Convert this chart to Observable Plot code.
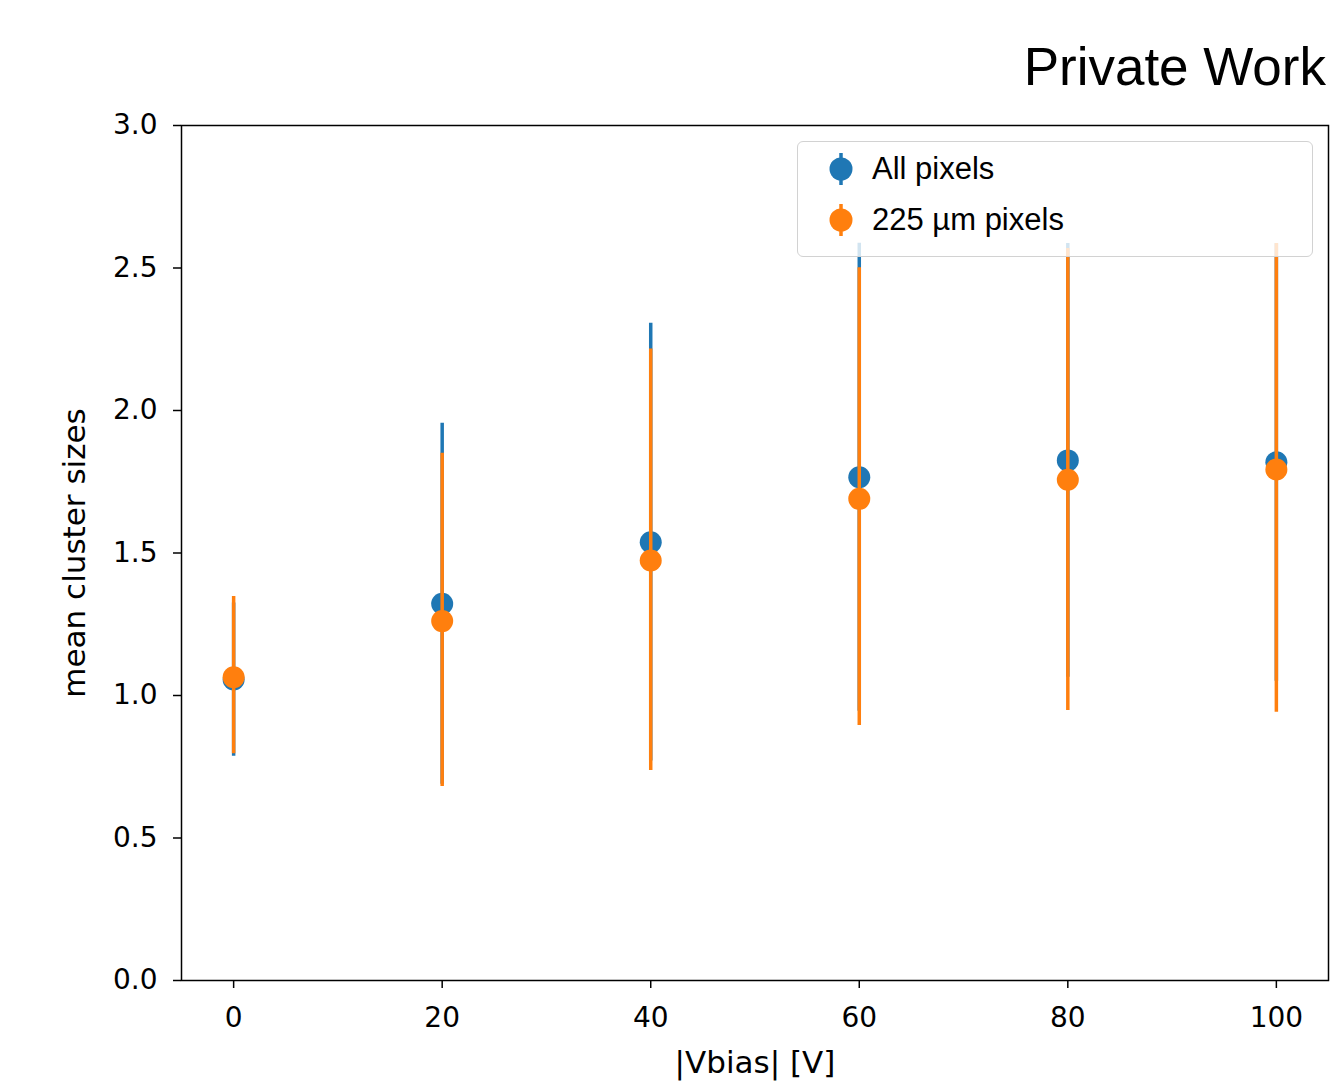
<!DOCTYPE html>
<html>
<head>
<meta charset="utf-8">
<script src="https://cdn.jsdelivr.net/npm/d3@7"></script>
<script src="https://cdn.jsdelivr.net/npm/@observablehq/plot@0.6"></script>
<style>
  html, body { margin: 0; padding: 0; background: white; }
  #wrap { position: relative; width: 1334px; height: 1081px; overflow: hidden; }
  #title { position: absolute; top: 40px; right: 8px; font-family: "Liberation Sans", Arial, sans-serif; font-size: 53px; line-height: 53px; color: black; }
  #chart { position: absolute; left: 0; top: 100px; }
  #legend { position: absolute; left: 797px; top: 141px; width: 516px; height: 116px; box-sizing: border-box;
            background: rgba(255,255,255,0.8); border: 1.5px solid #d2d2d2; border-radius: 6px; }
  .entry { position: absolute; left: 30px; height: 40px; display: flex; align-items: center;
           font-family: "Liberation Sans", Arial, sans-serif; font-size: 31px; color: black; }
  .entry svg { margin-right: 18px; }
</style>
</head>
<body>
<div id="wrap">
  <div id="title">Private Work</div>
  <div id="chart"></div>
  <div id="legend"></div>
</div>
<script>
// ---- data ----
const vbias = [0, 20, 40, 60, 80, 100];
const seriesNames = ["All pixels", "225 µm pixels"];
const seriesColors = ["#1f77b4", "#ff7f0e"];

const allMean = [1.056, 1.322, 1.538, 1.766, 1.825, 1.818];
const allLow  = [0.787, 0.689, 0.770, 0.945, 1.064, 1.050];
const allHigh = [1.325, 1.955, 2.306, 2.587, 2.586, 2.585];

const pixMean = [1.064, 1.261, 1.474, 1.690, 1.757, 1.793];
const pixLow  = [0.796, 0.681, 0.737, 0.895, 0.947, 0.941];
const pixHigh = [1.347, 1.850, 2.216, 2.501, 2.568, 2.586];

const xTicks = [0, 20, 40, 60, 80, 100];
const yTicks = [0.0, 0.5, 1.0, 1.5, 2.0, 2.5, 3.0];
const xLabel = "|Vbias| [V]";
const yLabel = "mean cluster sizes";

// ---- build rows ----
const rows = (means, lows, highs) => vbias.map((v, i) => ({v, m: means[i], lo: lows[i], hi: highs[i]}));
const allRows = rows(allMean, allLow, allHigh);
const pixRows = rows(pixMean, pixLow, pixHigh);

const series = [allRows, pixRows];
const marks = [];
series.forEach((data, k) => {
  marks.push(Plot.ruleX(data, {x: "v", y1: "lo", y2: "hi", stroke: seriesColors[k], strokeWidth: 3.5}));
  marks.push(Plot.dot(data, {x: "v", y: "m", r: 11, fill: seriesColors[k], stroke: "none"}));
});

const chart = Plot.plot({
  width: 1334,
  height: 981,
  marginTop: 25,
  marginBottom: 101,
  marginLeft: 181,
  marginRight: 6,
  style: {fontFamily: "'DejaVu Sans', sans-serif", fontSize: "28px", color: "black", background: "white", overflow: "visible"},
  x: {domain: [-5, 105]},
  y: {domain: [0, 3]},
  marks: [
    ...marks,
    Plot.frame({stroke: "black", strokeWidth: 1.5}),
    Plot.axisX({ticks: xTicks, tickSize: 8, tickPadding: 19, fontSize: 28, strokeWidth: 1.5,
                label: xLabel, labelAnchor: "center", labelArrow: "none", labelOffset: 92}),
    Plot.axisY({ticks: yTicks, tickFormat: d3.format(".1f"), tickSize: 8, tickPadding: 16, fontSize: 28, strokeWidth: 1.5,
                label: yLabel, labelAnchor: "center", labelArrow: "none", labelOffset: 119})
  ]
});
document.getElementById("chart").appendChild(chart);

// enlarge axis labels a bit
chart.querySelectorAll('g[aria-label="x-axis label"], g[aria-label="y-axis label"]').forEach(g => g.setAttribute("font-size", 31));

// ---- legend ----
const legend = document.getElementById("legend");
seriesNames.forEach((name, k) => {
  const e = document.createElement("div");
  e.className = "entry";
  e.style.top = (k === 0 ? 7 : 58) + "px";
  e.innerHTML = `<svg width="26" height="34" viewBox="0 0 26 34"><line x1="13" y1="1" x2="13" y2="33" stroke="${seriesColors[k]}" stroke-width="3.5"/><circle cx="13" cy="17" r="11.5" fill="${seriesColors[k]}"/></svg><span>${name}</span>`;
  legend.appendChild(e);
});
</script>
</body>
</html>
